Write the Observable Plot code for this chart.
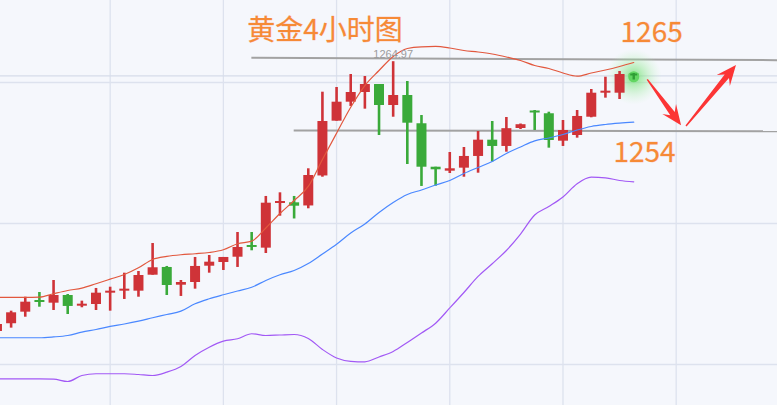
<!DOCTYPE html>
<html>
<head>
<meta charset="utf-8">
<script src="https://cdn.jsdelivr.net/npm/d3@7"></script>
<script src="https://cdn.jsdelivr.net/npm/@observablehq/plot@0.6"></script>
<style>
  html, body { margin: 0; padding: 0; background: #f5f7fc; overflow: hidden; }
</style>
</head>
<body>
<div id="chart"></div>
<script>
// 4小时K线 (开/收/高/低)
const opens  = [1222.07, 1223.30, 1225.14, 1227.00, 1226.57, 1227.79, 1226.09, 1226.36, 1228.16, 1228.48,
                1228.48, 1231.02, 1232.25, 1229.43, 1229.86, 1232.45, 1233.04, 1233.88, 1235.74, 1235.32,
                1242.42, 1242.53, 1242.03, 1246.80, 1255.51, 1258.53, 1260.07, 1261.34, 1258.00, 1259.59,
                1255.10, 1248.19, 1247.56, 1248.04, 1249.90, 1252.49, 1251.49, 1254.35, 1257.13, 1256.69,
                1252.33, 1253.23, 1256.14, 1259.96, 1259.96, 1263.01];
const closes = [1223.18, 1225.04, 1226.73, 1226.68, 1227.79, 1226.05, 1226.41, 1228.16, 1228.48, 1228.80,
                1230.97, 1232.20, 1229.38, 1229.86, 1232.41, 1233.09, 1233.84, 1235.43, 1235.43, 1242.47,
                1242.74, 1241.99, 1246.87, 1255.46, 1258.53, 1260.07, 1261.34, 1258.00, 1259.59, 1255.19,
                1248.19, 1247.78, 1247.94, 1249.90, 1252.49, 1251.49, 1254.32, 1254.95, 1256.81, 1252.44,
                1254.03, 1256.26, 1259.96, 1260.28, 1262.93, 1262.70];
const highs  = [1223.82, 1225.30, 1227.52, 1228.27, 1230.18, 1227.95, 1226.89, 1228.91, 1229.11, 1231.34,
                1231.61, 1236.06, 1232.41, 1230.18, 1233.84, 1234.15, 1233.84, 1237.81, 1237.81, 1243.54,
                1244.12, 1243.54, 1247.94, 1260.12, 1260.87, 1262.93, 1262.62, 1261.34, 1264.97, 1261.82,
                1256.41, 1248.19, 1250.53, 1251.33, 1253.87, 1255.46, 1256.10, 1255.06, 1257.21, 1256.94,
                1255.62, 1257.21, 1260.55, 1262.50, 1263.41, 1263.09];
const lows   = [1221.59, 1222.60, 1224.34, 1225.93, 1225.41, 1224.77, 1225.84, 1225.41, 1225.30, 1227.16,
                1227.52, 1231.02, 1227.79, 1227.64, 1228.80, 1231.34, 1231.77, 1232.25, 1234.90, 1234.47,
                1240.40, 1239.96, 1241.58, 1246.60, 1255.51, 1257.85, 1257.42, 1253.23, 1256.14, 1248.62,
                1245.13, 1245.17, 1247.19, 1246.60, 1247.24, 1249.02, 1250.58, 1254.19, 1254.03, 1251.22,
                1251.49, 1252.81, 1256.05, 1259.17, 1258.96, 1262.06];

// 布林带
const upper  = [1227.48, 1227.48, 1227.48, 1227.52, 1228.07, 1228.59, 1228.96, 1229.66, 1230.39, 1231.13,
                1232.20, 1233.52, 1234.00, 1234.27, 1234.43, 1234.63, 1235.06, 1236.02, 1236.43, 1238.53,
                1240.83, 1242.90, 1245.13, 1249.42, 1253.60, 1257.73, 1261.18, 1263.57, 1265.80, 1267.07,
                1267.34, 1267.39, 1267.15, 1266.75, 1266.51, 1266.19, 1265.72, 1265.16, 1264.36, 1263.89,
                1263.17, 1262.66, 1263.17, 1263.65, 1264.21, 1264.84];
const middle = [1221.07, 1221.07, 1221.07, 1221.07, 1221.20, 1221.43, 1221.96, 1222.39, 1222.87, 1223.26,
                1223.71, 1224.25, 1224.77, 1225.30, 1226.48, 1227.27, 1227.91, 1228.51, 1229.11, 1230.18,
                1231.09, 1231.77, 1232.88, 1234.39, 1235.94, 1237.73, 1239.16, 1240.99, 1242.58, 1243.85,
                1244.57, 1245.36, 1246.08, 1247.19, 1248.15, 1249.10, 1250.37, 1251.41, 1252.39, 1252.84,
                1253.39, 1254.11, 1254.67, 1254.98, 1255.19, 1255.35];
const lower  = [1214.52, 1214.52, 1214.52, 1214.52, 1214.49, 1214.12, 1215.07, 1215.35, 1215.35, 1215.35,
                1215.23, 1215.07, 1215.60, 1216.51, 1218.25, 1219.57, 1220.53, 1220.91, 1221.71, 1221.43,
                1221.51, 1221.59, 1220.96, 1219.21, 1217.86, 1217.33, 1217.25, 1218.02, 1218.89, 1220.32,
                1221.83, 1223.39, 1225.81, 1228.27, 1230.82, 1232.84, 1234.95, 1237.57, 1240.59, 1241.95,
                1243.46, 1245.56, 1246.60, 1246.51, 1246.08, 1245.87];

const gridIdx = [8, 16, 24, 32, 40, 48];
const gridPrice = [1216.82, 1239.24, 1261.66];
const lastPrice = 1262.70;

// 压力 / 支撑线
const levels = [
  {x1: 17.98, y1: 1265.59, x2: 55.3, y2: 1265.21},
  {x1: 20.97, y1: 1254.03, x2: 55.3, y2: 1253.92}
];
// 走势预测箭头
const forecast = [
  {x1: 45.99, y1: 1262.09, x2: 48.38, y2: 1254.80},
  {x1: 48.73, y1: 1254.67, x2: 52.26, y2: 1264.36}
];
const notes = [
  {label: "黄金4小时图", x: 17.68, y: 1269.85},
  {label: "1265", x: 44.07, y: 1269.53},
  {label: "1254", x: 43.57, y: 1250.45}
];

const candles = opens.map((o, i) => ({
  i, open: o, close: closes[i], high: highs[i], low: lows[i],
  upper: upper[i], middle: middle[i], lower: lower[i],
  color: closes[i] >= o ? "#cf3338" : "#3aaa3a"
}));
const lastBar = candles[candles.length - 1];
const peak = candles.reduce((a, b) => (b.high > a.high ? b : a));

// 渐细箭头
function taperArrows(index, scales) {
  try {
    const g = d3.create("svg:g");
    for (const a of forecast) {
      const sx = scales.x(a.x1), sy = scales.y(a.y1);
      const tx = scales.x(a.x2), ty = scales.y(a.y2);
      const len = Math.hypot(tx - sx, ty - sy);
      const ux = (tx - sx) / len, uy = (ty - sy) / len;
      const nx = -uy, ny = ux;
      const L = 20, W = 8.5;
      const bx = tx - ux * L, by = ty - uy * L;
      const jx = tx - ux * L * 0.72, jy = ty - uy * L * 0.72;
      const pts = [
        [sx + nx * 0.7, sy + ny * 0.7],
        [jx + nx * 2.8, jy + ny * 2.8],
        [bx + nx * W, by + ny * W],
        [tx, ty],
        [bx - nx * W, by - ny * W],
        [jx - nx * 2.8, jy - ny * 2.8],
        [sx - nx * 0.7, sy - ny * 0.7]
      ];
      g.append("path").attr("d", "M" + pts.join("L") + "Z").attr("fill", "#fc3535");
    }
    return g.node();
  } catch (e) {
    return null;
  }
}

let chart = Plot.plot({
  width: 777,
  height: 405,
  margin: 0,
  x: {domain: [0.25, 55.16], axis: null},
  y: {domain: [1210.3, 1274.7], axis: null},
  color: {type: "identity"},
  style: {background: "#f5f7fc", fontFamily: "'Noto Sans CJK SC', 'Noto Sans', sans-serif"},
  marks: [
    Plot.ruleX(gridIdx, {stroke: "#dde2ee", strokeWidth: 1.3}),
    Plot.ruleY(gridPrice, {stroke: "#dde2ee", strokeWidth: 1.3}),
    Plot.ruleY([lastPrice], {stroke: "#d6dcea", strokeWidth: 1.2}),
    Plot.link(levels, {x1: "x1", y1: "y1", x2: "x2", y2: "y2", stroke: "#a2a2a2", strokeWidth: 2}),
    // 最新一根K线的光晕 (放在K线下面)
    Plot.dot([lastBar], {x: "i", y: d => (d.high + d.low) / 2, r: 28, fill: "url(#glow)", stroke: "none"}),
    Plot.ruleX(candles, {x: "i", y1: "low", y2: "high", stroke: "color", strokeWidth: 2.6}),
    Plot.ruleX(candles, {x: "i", y1: "open", y2: "close", stroke: "color", strokeWidth: 10}),
    Plot.line(candles, {x: "i", y: "upper", stroke: "#e2583e", strokeWidth: 1.2, curve: "monotone-x"}),
    Plot.line(candles, {x: "i", y: "middle", stroke: "#4a88ff", strokeWidth: 1.2, curve: "monotone-x"}),
    Plot.line(candles, {x: "i", y: "lower", stroke: "#a259f5", strokeWidth: 1.2, curve: "monotone-x"}),
    Plot.text([peak], {x: "i", y: "high", text: d => d.high.toFixed(2), dy: -7, fontSize: 11,
      fill: "#9c9c9c", fontFamily: "'Liberation Sans', sans-serif"}),
    Plot.dot([lastBar], {x: "i", y: d => (d.high + d.low) / 2, r: 5.5, fill: "#62d662", stroke: "none"}),
    Plot.ruleX([lastBar], {x: "i", y1: "low", y2: "high", stroke: "#2f9e35", strokeWidth: 2.4}),
    Plot.ruleX([lastBar], {x: "i", y1: "open", y2: "close", stroke: "#2f9e35", strokeWidth: 7}),
    taperArrows,
    Plot.text(notes, {x: "x", y: "y", text: "label", textAnchor: "start", fontSize: 28,
      fill: "#f68a36", stroke: "#f7b0a0", strokeWidth: 0.4})
  ]
});

const defs = d3.select(chart).insert("defs", ":first-child");
const grad = defs.append("radialGradient").attr("id", "glow");
grad.append("stop").attr("offset", "0%").attr("stop-color", "#5edc5e").attr("stop-opacity", 0.75);
grad.append("stop").attr("offset", "40%").attr("stop-color", "#86e686").attr("stop-opacity", 0.45);
grad.append("stop").attr("offset", "100%").attr("stop-color", "#c2f4c2").attr("stop-opacity", 0);

d3.select('#chart').append(() => chart);
</script>
</body>
</html>
